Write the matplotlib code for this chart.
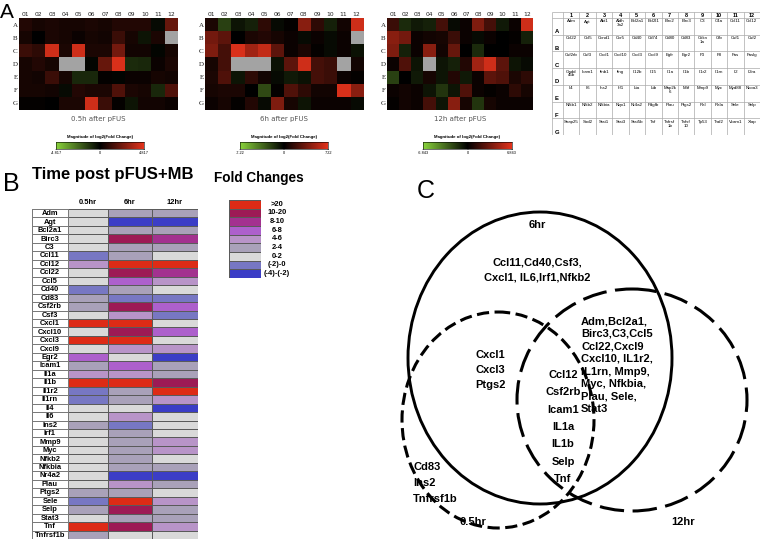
import numpy as np
import matplotlib.pyplot as plt
from matplotlib.colors import LinearSegmentedColormap, ListedColormap
from matplotlib.patches import Ellipse

plt.rcParams['font.family'] = ['Liberation Sans', 'DejaVu Sans']

W, H = 762, 541
nan = np.nan

# ---------------- panel A: array heat maps (value relative to colour-bar max, nan = grey)
plate_cols = ['01', '02', '03', '04', '05', '06', '07', '08', '09', '10', '11', '12']
plate_rows = ['A', 'B', 'C', 'D', 'E', 'F', 'G']

fc_05h = np.array([
    [0.15, 0.10, 0.12, 0.10, 0.10, 0.12, 0.10, 0.15, 0.15, 0.15, -0.05, 0.45],
    [0.10, 0.00, 0.12, 0.10, 0.05, 0.10, 0.08, 0.25, 0.10, -0.10, 0.12, nan],
    [0.25, 0.20, 0.90, 0.12, 0.90, 0.12, 0.12, 0.50, 0.08, 0.08, -0.03, 0.10],
    [0.10, 0.15, 0.10, nan, nan, -0.03, 0.45, 0.95, -0.20, -0.18, 0.05, 0.12],
    [0.10, 0.08, 0.25, 0.10, -0.18, -0.18, 0.02, -0.02, 0.05, 0.05, 0.10, 0.08],
    [0.10, 0.10, 0.08, -0.05, 0.15, 0.12, 0.12, 0.35, 0.12, 0.10, -0.18, 0.35],
    [0.02, 0.02, 0.00, 0.12, 0.12, 0.90, 0.25, 0.02, -0.10, 0.08, 0.08, 0.05],
])
fc_6h = np.array([
    [0.12, -0.30, -0.10, -0.15, 0.20, -0.05, 0.02, 0.60, 0.20, -0.15, 0.08, 0.90],
    [0.50, 0.40, 0.00, 0.12, 0.15, 0.10, 0.05, -0.05, 0.05, -0.05, 0.05, nan],
    [0.55, 0.30, 0.95, 0.70, 0.85, 0.40, 0.05, 0.12, 0.02, -0.05, 0.05, -0.08],
    [0.10, 0.30, nan, nan, nan, -0.08, 0.40, 0.90, 0.30, 0.25, nan, 0.08],
    [0.12, 0.35, -0.10, 0.20, 0.08, -0.05, -0.12, -0.08, 0.30, 0.25, 0.05, 0.02],
    [0.10, 0.12, 0.12, 0.00, -0.35, 0.02, 0.35, 0.20, 0.08, 0.08, 0.95, 0.60],
    [0.05, 0.10, 0.02, 0.15, -0.05, 0.55, 0.10, -0.10, 0.05, 0.05, 0.05, -0.05],
])
fc_12h = np.array([
    [0.25, -0.20, -0.12, -0.15, 0.30, -0.05, 0.05, 0.55, 0.30, -0.12, 0.05, 0.90],
    [0.60, 0.50, 0.05, 0.08, 0.10, 0.25, 0.05, -0.05, 0.05, 0.00, 0.02, -0.15],
    [0.55, -0.15, 0.05, 0.60, 0.08, 0.45, 0.00, -0.20, 0.00, 0.00, 0.05, 0.05],
    [0.05, 0.35, -0.10, nan, -0.10, -0.15, 0.15, 0.70, 0.90, 0.40, -0.10, -0.05],
    [-0.30, 0.00, -0.12, 0.10, -0.10, 0.15, -0.12, 0.05, 0.40, 0.35, 0.12, 0.20],
    [0.05, 0.08, 0.05, -0.10, -0.25, -0.10, 0.35, 0.05, 0.02, 0.05, 0.20, 0.10],
    [0.02, 0.08, 0.05, 0.30, -0.10, 0.60, 0.10, -0.25, 0.10, 0.05, 0.05, 0.05],
])
plate_max = [4.817, 7.22, 6.843]
plate_titles = ['0.5h after pFUS', '6h after pFUS', '12h after pFUS']

plate_genes = [
    ['Adm', 'Agt', 'Akt1', 'Aldh\n3a2', 'Bcl2a1', 'Bcl2l1', 'Birc2', 'Birc3', 'C3', 'C4a', 'Ccl11', 'Ccl12'],
    ['Ccl22', 'Ccl5', 'Ccnd1', 'Ccr5', 'Cd40', 'Cd74', 'Cd80', 'Cd83', 'Cdkn\n1a', 'Cfb', 'Csf1', 'Csf2'],
    ['Csf2rb', 'Csf3', 'Cxcl1', 'Cxcl10', 'Cxcl3', 'Cxcl9', 'Egfr', 'Egr2', 'F3', 'F8', 'Fas', 'Faslg'],
    ['Gadd\n45b', 'Icam1', 'Ifnb1', 'Ifng', 'Il12b', 'Il15', 'Il1a', 'Il1b', 'Il1r2', 'Il1rn', 'Il2', 'Il2ra'],
    ['Il4', 'Il6', 'Ins2', 'Irf1', 'Lta', 'Ltb', 'Map2k\n6', 'Mitf', 'Mmp9', 'Myc', 'Myd88', 'Ncoa3'],
    ['Nfkb1', 'Nfkb2', 'Nfkbia', 'Nqo1', 'Nr4a2', 'Pdgfb', 'Plau', 'Ptgs2', 'Rel', 'Rela', 'Sele', 'Selp'],
    ['Snap25', 'Sod2', 'Stat1', 'Stat3', 'Stat5b', 'Tnf', 'Tnfrsf\n1b', 'Tnfsf\n10', 'Tp53', 'Traf2', 'Vcam1', 'Xiap'],
]

# ---------------- panel B: fold-change bins per gene and time point
times_b = ['0.5hr', '6hr', '12hr']
genes_b = ['Adm', 'Agt', 'Bcl2a1', 'Birc3', 'C3', 'Ccl11', 'Ccl12', 'Ccl22', 'Ccl5', 'Cd40',
           'Cd83', 'Csf2rb', 'Csf3', 'Cxcl1', 'Cxcl10', 'Cxcl3', 'Cxcl9', 'Egr2', 'Icam1',
           'Il1a', 'Il1b', 'Il1r2', 'Il1rn', 'Il4', 'Il6', 'Ins2', 'Irf1', 'Mmp9', 'Myc',
           'Nfkb2', 'Nfkbia', 'Nr4a2', 'Plau', 'Ptgs2', 'Sele', 'Selp', 'Stat3', 'Tnf', 'Tnfrsf1b']
fold_bins = ['(-4)-(-2)', '(-2)-0', '0-2', '2-4', '4-6', '6-8', '8-10', '10-20', '>20']
bin_colors = ['#3b3dc6', '#7777c3', '#d9d9d9', '#a9a1b9', '#b894c8', '#ad60cc',
              '#a3318f', '#9d1a55', '#dd2b16']
bin_05h = [2, 2, 2, 2, 2, 1, 4, 2, 2, 1, 3, 3, 2, 8, 2, 8, 2, 5, 3, 4,
           8, 1, 1, 2, 2, 3, 2, 2, 2, 2, 2, 2, 2, 3, 1, 3, 2, 8, 3]
bin_6h = [3, 0, 3, 7, 3, 3, 8, 7, 5, 3, 1, 7, 4, 8, 7, 8, 4, 2, 5, 4,
          8, 3, 3, 2, 4, 1, 3, 3, 3, 3, 3, 0, 4, 3, 8, 7, 3, 7, 2]
bin_12h = [3, 0, 3, 6, 3, 2, 8, 6, 4, 2, 1, 5, 1, 2, 5, 2, 4, 0, 3, 3,
           7, 8, 4, 0, 2, 2, 2, 4, 4, 2, 3, 0, 3, 2, 4, 3, 3, 4, 2]

# ---------------- panel C: Venn diagram gene lists
venn_6h_only = 'Ccl11,Cd40,Csf3,\nCxcl1, IL6,Irf1,Nfkb2'
venn_6h_12h = 'Adm,Bcl2a1,\nBirc3,C3,Ccl5\nCcl22,Cxcl9\nCxcl10, IL1r2,\nIL1rn, Mmp9,\nMyc, Nfkbia,\nPlau, Sele,\nStat3'
venn_05h_6h = 'Cxcl1\nCxcl3\nPtgs2'
venn_all = 'Ccl12\nCsf2rb\nIcam1\nIL1a\nIL1b\nSelp\nTnf'
venn_05h_only = 'Cd83\nIns2\nTnfrsf1b'


def px_axes(fig, x0, y0, x1, y1):
    return fig.add_axes([x0 / W, 1 - y1 / H, (x1 - x0) / W, (y1 - y0) / H])


fig = plt.figure(figsize=(W / 100, H / 100), dpi=100)

gbr = LinearSegmentedColormap.from_list('gbr', ['#8ad43c', '#000000', '#e4331c'])
gbr.set_bad('#a3a3a3')

heat_boxes = [(19, 18, 178), (205, 18, 363), (387, 18, 533)]
cbar_boxes = [(56, 144), (240, 328), (423, 512)]
for vals, vmax, title, (hx0, hy0, hx1), (cx0, cx1) in zip(
        [fc_05h, fc_6h, fc_12h], plate_max, plate_titles, heat_boxes, cbar_boxes):
    ax = px_axes(fig, hx0, hy0, hx1, 110)
    ax.imshow(np.ma.masked_invalid(vals * vmax), cmap=gbr, vmin=-vmax, vmax=vmax,
              aspect='auto', interpolation='nearest')
    ax.set_xticks(range(len(plate_cols)))
    ax.set_xticklabels(plate_cols, fontsize=4.3, family='DejaVu Sans', color='#222')
    ax.set_yticks(range(len(plate_rows)))
    ax.set_yticklabels(plate_rows, fontsize=5, family='Liberation Serif', color='#222')
    ax.tick_params(length=0, top=True, labeltop=True, bottom=False, labelbottom=False, pad=1)
    for s in ax.spines.values():
        s.set_visible(False)
    ax.text(0.5, -0.06, title, transform=ax.transAxes, ha='center', va='top',
            fontsize=5, family='DejaVu Sans', color='#555')

    cax = px_axes(fig, cx0, 142, cx1, 149)
    grad = np.linspace(-vmax, vmax, 256).reshape(1, -1)
    cax.imshow(grad, cmap=gbr, aspect='auto', extent=(-vmax, vmax, 0, 1))
    cax.set_yticks([])
    cax.set_xticks([-vmax, 0, vmax])
    cax.set_xticklabels([f'-{vmax:g}', '0', f'{vmax:g}'], fontsize=2.8)
    cax.tick_params(length=1, width=0.3, pad=0.5)
    for s in cax.spines.values():
        s.set_linewidth(0.4)
    cax.set_title('Magnitude of log2(Fold Change)', fontsize=3.2, fontweight='bold', pad=3)

# gene layout table
tab = px_axes(fig, 552, 12, 760, 135)
first_w, cell_w = 11, (208 - 11) / 12
head_h, cell_h = 6, (123 - 6) / 7
x_edges = np.concatenate([[0], first_w + cell_w * np.arange(13)])
y_edges = np.concatenate([[0], head_h + cell_h * np.arange(8)])
tab.vlines(x_edges, 0, y_edges[-1], color='#aaaaaa', lw=0.5)
tab.hlines(y_edges, 0, x_edges[-1], color='#aaaaaa', lw=0.5)
for j in range(12):
    tab.text((x_edges[j + 1] + x_edges[j + 2]) / 2, head_h / 2 + 0.3, str(j + 1),
             ha='center', va='center', fontsize=4, fontweight='bold')
for i, row in enumerate(plate_genes):
    tab.text(3, y_edges[i + 2] - 3, plate_rows[i], ha='left', va='center',
             fontsize=4.2, fontweight='bold')
    for j, g in enumerate(row):
        tab.text((x_edges[j + 1] + x_edges[j + 2]) / 2, y_edges[i + 1] + 1.5, g,
                 ha='center', va='top', fontsize=3.2, linespacing=0.95)
tab.set_xlim(0, x_edges[-1])
tab.set_ylim(y_edges[-1], 0)
tab.axis('off')

# ---------------- panel B
bin_cmap = ListedColormap(bin_colors)
tb = px_axes(fig, 32, 209, 198, 539)
col_edges = np.array([0, 36, 76, 120, 166])
n = len(genes_b)
rows = np.arange(n + 1)
codes = np.column_stack([bin_05h, bin_6h, bin_12h])
tb.pcolormesh(col_edges[1:], rows, codes, cmap=bin_cmap, vmin=-0.5, vmax=8.5,
              edgecolors='#5a5a5a', linewidth=0.5)
tb.pcolormesh(col_edges[:2], rows, np.zeros((n, 1)), cmap=ListedColormap(['white']),
              edgecolors='#7a7a7a', linewidth=0.5)
for i, g in enumerate(genes_b):
    tb.text(col_edges[1] / 2, i + 0.55, g, ha='center', va='center', fontsize=5.4,
            fontweight='bold')
for j, t in enumerate(times_b):
    tb.text((col_edges[j + 1] + col_edges[j + 2]) / 2, -0.35, t, ha='center', va='bottom',
            fontsize=5.4, fontweight='bold', clip_on=False)
tb.set_xlim(0, col_edges[-1])
tb.set_ylim(n, 0)
tb.axis('off')

# legend
lg = px_axes(fig, 229, 200, 261, 278)
nb = len(fold_bins)
lg.pcolormesh([0, 1], np.arange(nb + 1), np.arange(nb)[::-1].reshape(-1, 1), cmap=bin_cmap,
              vmin=-0.5, vmax=8.5, edgecolors='#5a5a5a', linewidth=0.5)
for i, lab in enumerate(fold_bins[::-1]):
    lg.text(1.5, i + 0.5, lab, ha='center', va='center', fontsize=5.4, fontweight='bold',
            clip_on=False)
lg.set_xlim(0, 1)
lg.set_ylim(nb, 0)
lg.axis('off')

# ---------------- overlay: panel letters, titles, Venn
ov = fig.add_axes([0, 0, 1, 1])
ov.set_xlim(0, W)
ov.set_ylim(H, 0)
ov.axis('off')
ov.text(0, 18.5, 'A', fontsize=15, ha='left', va='baseline')
ov.text(3, 191, 'B', fontsize=18, ha='left', va='baseline')
ov.text(417, 198, 'C', fontsize=18, ha='left', va='baseline')
ov.text(113, 174, 'Time post pFUS+MB', fontsize=12, fontweight='bold', ha='center', va='center')
ov.text(259, 178, 'Fold Changes', fontsize=9.8, fontweight='bold', ha='center', va='center')

ov.add_patch(Ellipse((540, 358), 264, 292, fill=False, lw=2.1, color='black'))
ov.add_patch(Ellipse((498, 420), 192, 216, fill=False, lw=2.2, color='black',
                     linestyle=(0, (4, 1.8))))
ov.add_patch(Ellipse((632, 400), 230, 222, fill=False, lw=2.2, color='black',
                     linestyle=(0, (8, 2.8))))

vt = dict(fontsize=8, fontweight='bold')
ov.text(537, 225, '6hr', ha='center', va='center', **vt)
ov.text(537, 270, venn_6h_only, ha='center', va='center', linespacing=1.55, **vt)
ov.text(581, 316, venn_6h_12h, ha='left', va='top', linespacing=1.33, **vt)
ov.text(490, 370, venn_05h_6h, ha='center', va='center', linespacing=1.6, **vt)
ov.text(563, 427, venn_all, ha='center', va='center', linespacing=1.93, **vt)
ov.text(413, 483, venn_05h_only, ha='left', va='center', linespacing=1.72, **vt)
ov.text(473, 522, '0.5hr', ha='center', va='center', **vt)
ov.text(683, 522, '12hr', ha='center', va='center', **vt)

fig.savefig('out.png', dpi=100)
